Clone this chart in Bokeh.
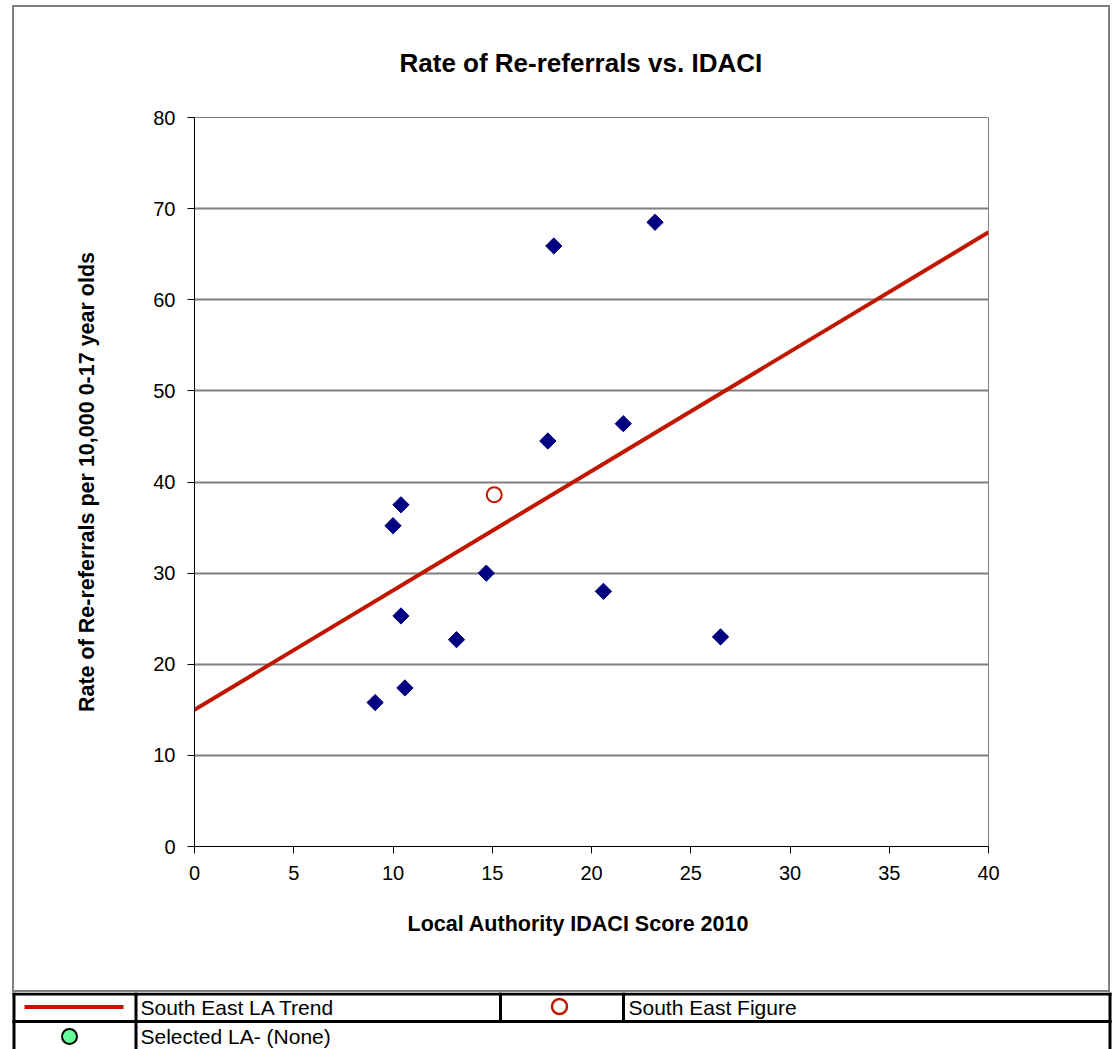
import math
from bokeh.plotting import figure
from bokeh.models import Range1d, FixedTicker, ColumnDataSource, Title
from bokeh.embed import file_html
from bokeh.resources import INLINE
from bokeh.core.properties import value

# ---------------- data ----------------
idaci_score = [9.1, 10.0, 10.4, 10.4, 10.6, 13.2, 14.7, 17.8, 18.1, 20.6, 21.6, 23.2, 26.5]
rereferral_rate = [15.8, 35.2, 37.5, 25.3, 17.4, 22.7, 30.0, 44.5, 65.9, 28.0, 46.4, 68.5, 23.0]
se_idaci = [15.1]
se_rate = [38.6]
trend_x = [0, 40]
trend_y = [15.0, 67.4]
x_ticks = [0, 5, 10, 15, 20, 25, 30, 35, 40]
y_ticks = [0, 10, 20, 30, 40, 50, 60, 70, 80]
legend_labels = ["South East LA Trend", "South East Figure", "Selected LA- (None)"]

FONT = "Liberation Sans"
RED = "#C01800"
NAVY = "#000080"

# ---------------- main chart ----------------
p = figure(width=1098, height=987,
           x_range=Range1d(0, 40), y_range=Range1d(0, 80),
           output_backend="svg", toolbar_location=None,
           min_border_left=182, min_border_right=122,
           min_border_top=112, min_border_bottom=146)
p.margin = (5, 0, 0, 12)
p.styles = {"outline": "2px solid #808080", "outline-offset": "-2px",
            "box-shadow": "inset -2px 0 0 #000000", "background": "white"}

title = Title(text="Rate of Re-referrals vs. IDACI", align="left", offset=205,
              text_font=FONT, text_font_size="26px", text_font_style="bold",
              text_color="black", standoff=79)
p.add_layout(title, "above")

p.background_fill_color = "white"
p.border_fill_color = None
p.outline_line_color = "#808080"
p.outline_line_width = 1

p.xgrid.visible = False
p.ygrid.grid_line_color = "#808080"
p.ygrid.grid_line_width = 2

for ax in (p.xaxis[0], p.yaxis[0]):
    ax.axis_line_color = "black"
    ax.axis_line_width = 1
    ax.major_tick_line_color = "black"
    ax.major_tick_out = 7
    ax.major_tick_in = 0
    ax.minor_tick_line_color = None
    ax.major_label_text_font = FONT
    ax.major_label_text_font_size = "20px"
    ax.major_label_text_color = "black"
    ax.axis_label_text_font = FONT
    ax.axis_label_text_font_size = "21.5px"
    ax.axis_label_text_font_style = "bold"
    ax.axis_label_text_color = "black"

p.xaxis.ticker = FixedTicker(ticks=x_ticks)
p.yaxis.ticker = FixedTicker(ticks=y_ticks)
p.yaxis.axis_label = "Rate of Re-referrals per 10,000 0-17 year olds"
p.xaxis.major_label_standoff = 12
p.yaxis.major_label_standoff = 12
p.yaxis.axis_label_standoff = 51

xtitle = Title(text="Local Authority IDACI Score 2010", align="left", offset=213,
               text_font=FONT, text_font_size="21.5px", text_font_style="bold",
               text_color="black", standoff=55)
p.add_layout(xtitle, "below")

p.line(trend_x, trend_y, line_color=RED, line_width=4)
p.scatter(idaci_score, rereferral_rate, marker="square", size=11.5, angle=math.pi / 4,
          fill_color=NAVY, line_color=NAVY)
p.scatter(se_idaci, se_rate, marker="circle", size=15, fill_color=None,
          line_color=RED, line_width=2)

# ---------------- legend table ----------------
q = figure(width=1113, height=57,
           x_range=Range1d(0, 1113), y_range=Range1d(1049, 992),
           output_backend="svg", toolbar_location=None,
           min_border=0, min_border_left=0, min_border_right=0,
           min_border_top=0, min_border_bottom=0)
q.axis.visible = False
q.grid.visible = False
q.outline_line_color = None
q.background_fill_color = "white"
q.border_fill_color = "white"

# table rules
q.segment(x0=[12, 12, 13.5, 135.5, 500, 623, 1109.5],
          y0=[993.5, 1021, 992, 992, 992, 992, 992],
          x1=[1111, 1111, 13.5, 135.5, 500, 623, 1109.5],
          y1=[993.5, 1021, 1049, 1049, 1021, 1021, 1049],
          line_color="black", line_width=3)

# legend samples
q.segment(x0=[24], y0=[1006.5], x1=[123], y1=[1006.5], line_color=RED, line_width=4)
q.scatter([559], [1006], marker="circle", size=15, fill_color=None, line_color=RED, line_width=2.5)
q.scatter([69], [1036], marker="circle", size=15, fill_color="#66FF99", line_color="black", line_width=2)

src = ColumnDataSource(dict(x=[140, 628, 140], y=[1007, 1007, 1036], t=legend_labels))
q.text(x="x", y="y", text="t", source=src, text_font=value(FONT), text_font_size="21px",
       text_baseline="middle", text_align="left", text_color="black")

open("out.html", "w").write(file_html([p, q], INLINE))
